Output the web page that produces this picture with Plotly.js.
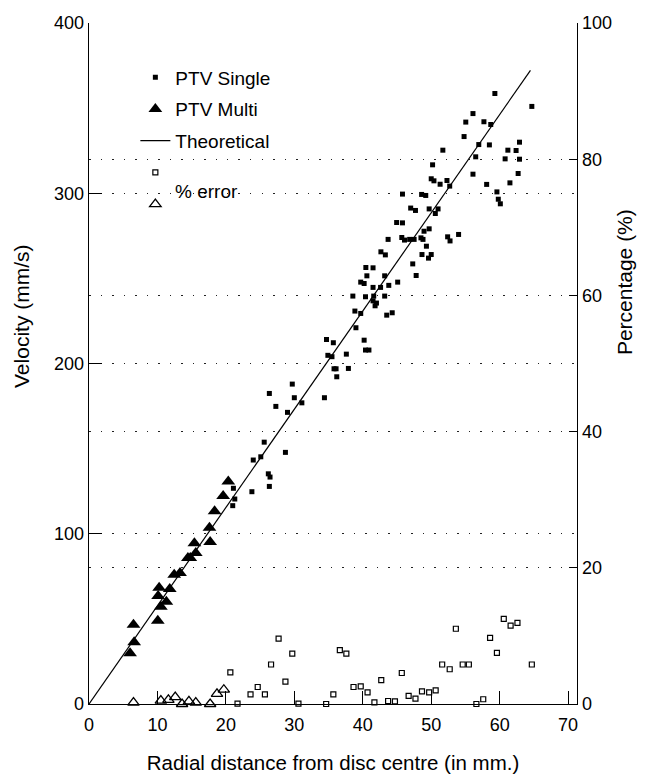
<!DOCTYPE html>
<html>
<head>
<meta charset="utf-8">
<script src="https://cdn.plot.ly/plotly-3.0.1.min.js"></script>
<style>html,body{margin:0;padding:0;background:#fff;}#chart{width:646px;height:774px;}</style>
</head>
<body>
<div id="chart"></div>
<script>
// PTV single-particle velocities (radial distance mm, velocity mm/s)
var singleX = [59.3,64.7,56.1,55.05,57.7,58.7,54.8,56.95,58.5,62.9,61.2,62.4,51.7,56.5,60.8,62.9,50.2,62.7,56.1,50.0,50.4,52.3,51.3,52.7,61.5,58.1,59.6,59.8,60.1,45.8,48.6,49.2,47.0,47.7,49.7,51.0,50.6,
  44.95,45.8,48.95,49.7,43.7,45.7,46.1,46.85,47.5,48.5,48.8,52.4,52.75,54.0,42.65,43.3,49.3,48.65,50.0,49.6,47.3,47.8,40.45,41.5,40.6,43.2,39.7,40.2,45.1,41.5,42.6,43.8,38.55,40.4,41.6,43.2,41.5,42.0,41.8,38.85,39.7,43.5,44.3,39.0,34.7,35.7,40.2,40.4,40.9,34.9,35.5,37.6,35.8,36.1,37.9,36.2,29.7,26.35,30.0,34.4,
  27.3,29.0,31.1,25.6,24.0,25.1,28.7,26.2,26.45,26.35,23.8,21.1,21.3,21.0];
var singleV = [358.6,351,346.8,341.8,342,340.4,333.3,328.6,328.4,330,325.3,325.1,325.3,321.4,320.2,320,316.7,311.6,311.2,308.5,307.3,307.5,305.3,304.2,306.1,305.2,300.8,296.5,293.8,299.5,299.3,298.7,291.3,289.9,290.8,290.8,288.1,
  282.8,282.6,277.7,279.1,272.9,274,272.5,272.9,272.9,273.8,272.9,274.4,272,275.8,265.6,263.8,268.9,264,264,261.9,258.5,251.7,256.4,256.2,251.5,251.5,247.8,247,247.8,244.7,244.7,245.9,239.6,239.2,239.6,239.6,236.8,235.5,233.9,230.8,229.4,228.4,229.8,221,214.1,212.2,213.7,207.9,207.9,204.8,204,205.5,196.9,196.9,197.1,192.2,187.9,182.4,179.9,179.9,
  174.8,171.3,176.9,153.8,143.3,145.2,147.8,135.2,133.3,127.8,124.7,126.7,120.4,116.5];

// PTV multi-particle velocities
var multiX = [20.35,19.6,18.35,17.6,17.7,15.4,15.6,14.45,14.8,12.45,13.3,10.25,11.8,10.1,11.3,10.5,10.05,6.5,6.6,6.0];
var multiV = [130.7,122.1,113.2,103.5,95.1,94.4,88.7,85.7,85.7,75.9,76.9,68.3,67.5,63.4,60.1,57.1,48.9,46.6,36.2,29.8];

// Theoretical solid-body line
var theoX = [0, 64.5];
var theoV = [0, 372.2];

// % error, single (squares) and multi (triangles)
var errSX = [20.65,21.7,23.6,24.65,25.7,26.6,27.7,28.7,29.7,30.6,34.65,35.7,36.65,37.6,38.65,39.7,40.7,41.7,42.7,43.7,44.7,45.7,46.7,47.7,48.65,49.7,50.65,51.6,52.7,53.6,54.6,55.5,56.6,57.6,58.6,59.6,60.6,61.6,62.6,64.7];
var errSP = [4.65,0.05,1.4,2.5,1.4,5.8,9.6,3.3,7.4,0.05,0,1.4,7.9,7.4,2.5,2.6,1.7,0.25,3.5,0.44,0.4,4.55,1.2,0.8,1.85,1.7,2.0,5.8,5.1,11.05,5.8,5.8,0,0.7,9.7,7.5,12.5,11.5,11.9,5.8];
var errMX = [6.5,10.5,11.6,12.6,13.6,14.6,15.6,17.7,18.7,19.7];
var errMP = [0.2,0.5,0.6,1.0,0,0.4,0.2,0,1.5,2.1];

var xTicks = [0,10,20,30,40,50,60,70];
var yTicks = [0,100,200,300,400];
var y2Ticks = [0,20,40,60,80,100];

var FONT = 'Liberation Sans, Arial, Helvetica, sans-serif';

var traces = [
  {x: singleX, y: singleV, type: 'scatter', mode: 'markers', name: 'PTV Single', legendgroup: 'g1',
   marker: {symbol: 'square', size: 5, color: '#000'}, cliponaxis: false},
  {x: multiX, y: multiV, type: 'scatter', mode: 'markers', name: 'PTV Multi', legendgroup: 'g2',
   marker: {symbol: 'triangle-up', size: 12, color: '#000'}},
  {x: theoX, y: theoV, type: 'scatter', mode: 'lines', name: 'Theoretical', legendgroup: 'g3',
   line: {color: '#000', width: 1.2}},
  {x: errSX, y: errSP, type: 'scatter', mode: 'markers', name: ' ', yaxis: 'y2', legendgroup: 'g4',
   marker: {symbol: 'square-open', size: 5, color: '#000', line: {width: 1.2}}, cliponaxis: false},
  {x: errMX, y: errMP, type: 'scatter', mode: 'markers', name: '  ', yaxis: 'y2', legendgroup: 'g5',
   marker: {symbol: 'triangle-up-open', size: 10, color: '#000', line: {width: 1.3}}, cliponaxis: false}
];

var gridStyle = {showgrid: true, gridcolor: '#222', gridwidth: 1, griddash: '1.5px,10px', ticks: ''};

var layout = {
  width: 646, height: 774,
  margin: {l: 89, r: 69, t: 23, b: 70},
  paper_bgcolor: '#fff', plot_bgcolor: '#fff',
  font: {family: FONT, color: '#000', size: 18},
  showlegend: true,
  legend: {x: 0.095, y: 0.948, xanchor: 'left', yanchor: 'top', bgcolor: 'rgba(0,0,0,0)',
           font: {size: 19, family: FONT, color: '#000'}, tracegroupgap: 4, traceorder: 'grouped'},
  xaxis: {range: [0, 71.3], tickvals: xTicks, ticks: 'inside', ticklen: 13, tickcolor: '#000',
          showline: true, linecolor: '#000', linewidth: 1.3, showgrid: false, zeroline: false,
          tickfont: {size: 18}, ticklabelstandoff: 4,
          title: {text: 'Radial distance from disc centre (in mm.)', font: {size: 20.5}, standoff: 24}},
  yaxis: {range: [0, 400], tickvals: yTicks, ticks: 'inside', ticklen: 13, tickcolor: '#000',
          showline: true, linecolor: '#000', linewidth: 1.3, showgrid: false, zeroline: false,
          tickfont: {size: 18},
          minor: Object.assign({tickvals: [100, 200, 300]}, gridStyle)},
  yaxis2: {range: [0, 100], tickvals: y2Ticks, overlaying: 'y', side: 'right', ticks: 'inside', ticklen: 8,
           tickcolor: '#000', showline: true, linecolor: '#000', linewidth: 1.3, showgrid: false, zeroline: false,
           tickfont: {size: 18},
           minor: Object.assign({tickvals: [20, 40, 60, 80]}, gridStyle)},
  annotations: [
    {text: 'Velocity (mm/s)', xref: 'paper', yref: 'paper', x: -0.137, y: 0.57, xanchor: 'center', yanchor: 'middle',
     textangle: -90, showarrow: false, font: {size: 21, family: FONT}},
    {text: 'Percentage (%)', xref: 'paper', yref: 'paper', x: 1.097, y: 0.62, xanchor: 'center', yanchor: 'middle',
     textangle: -90, showarrow: false, font: {size: 21, family: FONT}},
    {text: '% error', xref: 'paper', yref: 'paper', x: 0.172, y: 0.753, xanchor: 'left', yanchor: 'middle',
     showarrow: false, font: {size: 19, family: FONT}}
  ]
};

Plotly.newPlot('chart', traces, layout, {displayModeBar: false, staticPlot: true});
</script>
</body>
</html>
